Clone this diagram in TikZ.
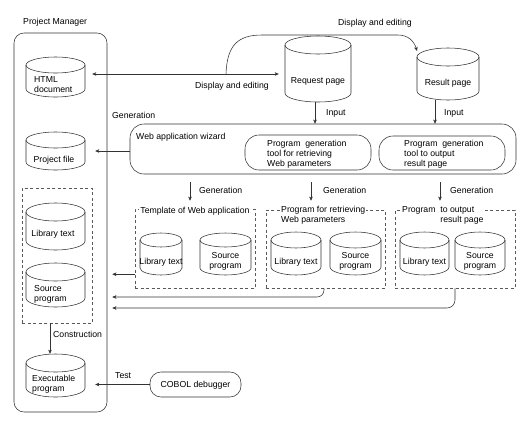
\documentclass[tikz,border=0pt]{standalone}
\usepackage{fontspec}
\setmainfont{Liberation Sans}
\usetikzlibrary{arrows.meta,calc}
\tikzset{
  ln/.style={draw=black!80, line width=0.55pt},
  txt/.style={font=\fontsize{8.7}{10}\selectfont, inner sep=0pt, align=left, text=black},
  arr/.style={ln, -{Stealth[length=4pt,width=3.5pt,inset=1pt]}},
  arrb/.style={ln, {Stealth[length=4pt,width=3.5pt,inset=1pt]}-{Stealth[length=4pt,width=3.5pt,inset=1pt]}},
  dbox/.style={draw=black!65, line width=0.5pt, dash pattern=on 3pt off 2.5pt, inner sep=0pt},
  rbox/.style={ln, inner sep=0pt},
  cylbox/.style={inner sep=0pt, draw=none},
  cyl/.style={ln},
  ttl/.style={txt, fill=white, inner xsep=1pt, inner ysep=1pt}
}
\newcommand\cyl[6]{%
  \pgfmathsetmacro\cxx{(#2+#4)/2}%
  \pgfmathsetmacro\crx{(#4-#2)/2}%
  \pgfmathsetmacro\cyy{-(#3+#5)/2}%
  \pgfmathsetmacro\chh{#5-#3}%
  \pgfmathsetmacro\cww{#4-#2}%
  \node[cylbox, minimum width=\cww pt, minimum height=\chh pt] (#1) at (\cxx,\cyy) {};
  \draw[cyl] (#2,-#3-#6) -- (#2,-#5+#6) arc[start angle=180,end angle=360,x radius=\crx pt,y radius=#6 pt] -- (#4,-#3-#6);
  \draw[cyl] (\cxx,-#3-#6) ellipse[x radius=\crx pt,y radius=#6 pt];
}
\begin{document}
\begin{tikzpicture}[x=1pt,y=1pt]
\fill[white] (0,0) rectangle (528,-429);
\useasboundingbox (0,0) rectangle (528,-429);

% Project manager
\node[txt, anchor=west] (pmT) at (23,-22) {Project Manager};
\node[rbox, rounded corners=10pt, minimum width=93pt, minimum height=379pt] (pm) at (60.5,-222.5) {};

\cyl{html}{26}{57}{85}{97}{8}
\node[txt, anchor=west] (htmlT) at (34,-85) {HTML\\document};
\cyl{pfile}{26}{132}{85}{170}{8}
\node[txt] (pfileT) at (54,-160) {Project file};

\node[dbox, minimum width=70pt, minimum height=135pt] (grp) at (57,-255.5) {};
\cyl{lib0}{26}{203}{85}{250}{9}
\node[txt] (lib0T) at (53,-234) {Library text};
\cyl{src0}{26}{263}{85}{307}{9}
\node[txt, anchor=west] (src0T) at (34,-294) {Source\\program};

\cyl{exe}{26}{354}{85}{397}{9}
\node[txt, anchor=west] (exeT) at (32,-384) {Executable\\program};

\node[rbox, rounded corners=11pt, minimum width=91pt, minimum height=25pt] (cobol) at (195.5,-384.5) {};
\node[txt] (cobolT) at (195.5,-385) {COBOL debugger};

% pages
\cyl{req}{285}{36}{351}{102}{9}
\node[txt] (reqT) at (318,-81) {Request page};
\cyl{res}{417}{48}{479}{100}{9}
\node[txt] (resT) at (448,-83) {Result page};

% wizard
\node[rbox, rounded corners=14pt, minimum width=386pt, minimum height=50pt] (wiz) at (323,-149) {};
\node[txt, anchor=west] (wizT) at (136,-137) {Web application wizard};
\node[rbox, rounded corners=14pt, minimum width=126pt, minimum height=35pt] (tool1) at (308,-152.5) {};
\node[txt, anchor=west] (tool1T) at (267,-154.5) {Program\ \ generation\\tool for retrieving\\Web parameters};
\node[rbox, rounded corners=14pt, minimum width=126pt, minimum height=34pt] (tool2) at (442,-153) {};
\node[txt, anchor=west] (tool2T) at (404,-154.5) {Program\ \ generation\\tool to output\\result page};

\node[txt, anchor=west] (genT0) at (112,-115) {Generation};

% dashed boxes
\node[dbox, minimum width=120pt, minimum height=79pt] (tpl) at (195,-248.5) {};
\node[ttl] (tplT) at (195,-211) {Template of Web application};
\cyl{lib1}{140}{233}{182}{275}{7}
\node[txt] (lib1T) at (161,-262) {Library text};
\cyl{src1}{200}{233}{251}{275}{7}
\node[txt, align=center] (src1T) at (225.5,-261) {Source\\program};

\node[dbox, minimum width=119pt, minimum height=78pt] (b2) at (325.5,-249) {};
\node[ttl, anchor=north west] (b2T) at (280,-205) {Program for retrieving\\Web parameters};
\cyl{lib2}{271}{232}{321}{275}{8}
\node[txt] (lib2T) at (296,-262) {Library text};
\cyl{src2}{330}{232}{381}{275}{8}
\node[txt, align=center] (src2T) at (355.5,-261) {Source\\program};

\node[dbox, minimum width=120pt, minimum height=78pt] (b3) at (455,-249) {};
\node[ttl, anchor=north west] (b3T) at (401,-205) {Program\ \ to output\\\phantom{Program\ \ }result page};
\cyl{lib3}{400}{232}{449}{275}{8}
\node[txt] (lib3T) at (424.5,-262) {Library text};
\cyl{src3}{455}{232}{505}{275}{8}
\node[txt, align=center] (src3T) at (480,-261) {Source\\program};

% connectors
\coordinate (de) at (226,-74);
\draw[arrb, shorten <=7pt, shorten >=6pt] (html.east |- de) -- (req.west |- de);
\node[txt, anchor=west] (deT1) at (195,-86) {Display and editing};
\coordinate (deEnd) at (417,-51);
\draw[arr] (de) .. controls (227,-45) and (238,-35) .. (262,-35) -- (398,-35) .. controls (408,-35) and (414,-41) .. (deEnd);
\node[txt, anchor=west] (deT2) at (338,-23) {Display and editing};

\coordinate (i1) at ($(req.south)+(-3,0)$);
\draw[arr] (i1) -- (i1 |- wiz.north);
\node[txt, anchor=west] (in1) at (326,-113) {Input};
\coordinate (i2) at ($(res.south)+(-13,0)$);
\draw[arr] (i2) -- (i2 |- wiz.north);
\node[txt, anchor=west] (in2) at (444,-113) {Input};

\draw[arr, shorten >=10pt] (wiz.west |- pfile) -- (pfile.east);

\coordinate (g1) at ($(tpl.north)+(-5,0)$);
\draw[arr, shorten <=8pt, shorten >=8pt] (g1 |- wiz.south) -- (g1);
\node[txt, anchor=west] (gen1) at (199,-190) {Generation};
\coordinate (g2) at ($(b2.north)+(-14.5,0)$);
\draw[arr, shorten <=8pt, shorten >=9pt] (g2 |- wiz.south) -- (g2);
\node[txt, anchor=west] (gen2) at (323,-190) {Generation};
\coordinate (g3) at ($(b3.north)+(-15,0)$);
\draw[arr, shorten <=8pt, shorten >=9pt] (g3 |- wiz.south) -- (g3);
\node[txt, anchor=west] (gen3) at (450,-190) {Generation};

\coordinate (t1) at ($(tpl.south west)+(0,14)$);
\draw[arr, shorten >=5pt] (t1) -- (pm.east |- t1);
\coordinate (r2) at (0,-297);
\coordinate (b2s) at ($(b2.south)+(-1.5,0)$);
\draw[arr, rounded corners=7pt, shorten >=5pt] (b2s) |- (pm.east |- r2);
\coordinate (r3) at (0,-308);
\draw[arr, rounded corners=8pt, shorten >=5pt] (b3.south) |- (pm.east |- r3);

\coordinate (c1) at ($(grp.south)+(-7,0)$);
\draw[arr] (c1) -- (c1 |- exe.north);
\node[txt, anchor=west] (consT) at (53,-334) {Construction};

\draw[arr, shorten >=10pt] (cobol.west) -- (exe.east |- cobol.west);
\node[txt, anchor=west] (testT) at (115,-376) {Test};
\end{tikzpicture}
\end{document}
